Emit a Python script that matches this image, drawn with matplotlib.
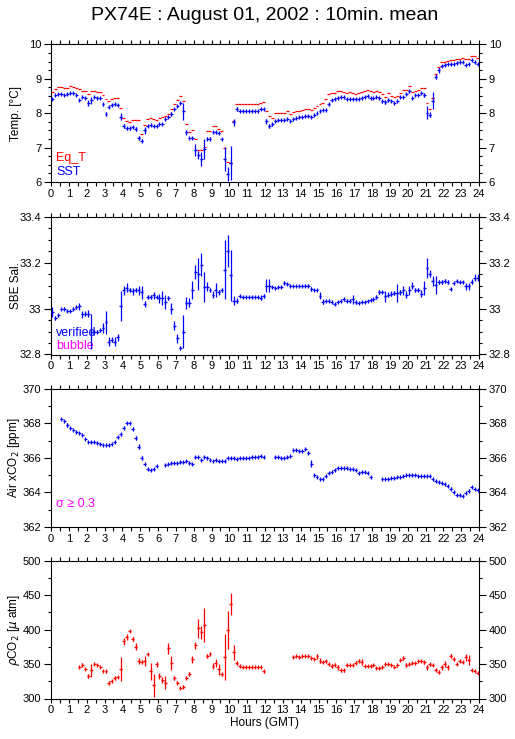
import numpy as np
import matplotlib
matplotlib.use("Agg")
import matplotlib.pyplot as plt
from matplotlib.ticker import MultipleLocator, FuncFormatter

plt.rcParams["font.family"] = ["Liberation Sans", "DejaVu Sans"]

nan = np.nan

TITLE = "PX74E : August 01, 2002 : 10min. mean"
BIN_HOURS = 1 / 6  # 10-minute means, 6 per hour

# one row per hour, 6 ten-minute values each
EQ_T = [
    [8.62, 8.70, 8.76, 8.76, 8.72, 8.74],
    [8.78, 8.77, 8.74, 8.70, 8.65, 8.65],
    [8.57, 8.64, 8.63, 8.62, 8.61, 8.52],
    [8.42, 8.35, 8.40, 8.44, 8.44, 8.15],
    [7.86, 7.78, 7.75, 7.80, 7.80, 7.80],
    [7.40, 7.66, 7.84, 7.86, 7.82, 7.81],
    [7.86, 7.88, 7.92, 7.99, 8.12, 8.28],
    [8.38, 8.49, 8.36, 7.70, 7.44, 7.50],
    [7.24, 6.94, 6.94, 7.02, 7.48, 7.47],
    [7.64, 7.62, 7.55, 7.48, 6.98, 6.57],
    [6.55, 7.76, 8.26, 8.28, 8.28, 8.28],
    [8.28, 8.28, 8.28, 8.28, 8.30, 8.32],
    [8.06, 7.92, 7.86, 8.00, 8.02, 8.01],
    [8.02, 8.05, 7.98, 8.04, 8.06, 8.06],
    [8.08, 8.12, 8.12, 8.10, 8.16, 8.20],
    [8.26, 8.30, 8.42, 8.56, 8.58, 8.58],
    [8.64, 8.64, 8.62, 8.60, 8.62, 8.58],
    [8.56, 8.60, 8.62, 8.65, 8.67, 8.64],
    [8.62, 8.64, 8.62, 8.55, 8.48, 8.58],
    [8.50, 8.48, 8.50, 8.60, 8.66, 8.68],
    [8.78, 8.62, 8.64, 8.66, 8.72, 8.72],
    [8.30, 8.12, 8.44, 9.14, 9.34, 9.48],
    [9.50, 9.52, 9.53, 9.55, 9.56, 9.58],
    [9.60, 9.56, 9.58, 9.65, 9.65, 9.60],
]

SST = [
    [8.42, 8.52, 8.55, 8.56, 8.54, 8.56],
    [8.58, 8.58, 8.53, 8.38, 8.46, 8.45],
    [8.30, 8.38, 8.46, 8.44, 8.43, 8.26],
    [7.98, 8.18, 8.24, 8.26, 8.25, 7.90],
    [7.64, 7.56, 7.56, 7.60, 7.55, 7.28],
    [7.20, 7.50, 7.62, 7.66, 7.62, 7.62],
    [7.68, 7.70, 7.82, 7.88, 7.98, 8.12],
    [8.22, 8.30, 8.06, 7.44, 7.28, 7.28],
    [6.94, 6.78, 6.66, 6.96, 7.26, 7.26],
    [7.46, 7.44, 7.42, 7.26, 6.68, 6.24],
    [6.55, 7.74, 8.12, 8.07, 8.07, 8.07],
    [8.07, 8.07, 8.07, 8.07, 8.12, 8.12],
    [7.76, 7.64, 7.68, 7.78, 7.80, 7.80],
    [7.80, 7.84, 7.78, 7.82, 7.86, 7.90],
    [7.90, 7.92, 7.92, 7.90, 7.96, 8.00],
    [8.06, 8.10, 8.10, 8.26, 8.38, 8.42],
    [8.44, 8.46, 8.46, 8.42, 8.42, 8.42],
    [8.42, 8.40, 8.44, 8.48, 8.50, 8.44],
    [8.44, 8.48, 8.44, 8.34, 8.32, 8.38],
    [8.34, 8.30, 8.34, 8.48, 8.48, 8.56],
    [8.64, 8.44, 8.52, 8.54, 8.58, 8.52],
    [8.02, 7.96, 8.36, 9.06, 9.24, 9.36],
    [9.40, 9.42, 9.42, 9.44, 9.46, 9.48],
    [9.48, 9.40, 9.44, 9.54, 9.48, 9.44],
]

SST_SD = [
    [.03, .02, .02, .02, .02, .02],
    [.02, .02, .03, .03, .02, .02],
    [.08, .10, .02, .02, .02, .05],
    [.05, .03, .02, .02, .03, .10],
    [.06, .04, .04, .04, .06, .05],
    [.05, .10, .03, .03, .02, .02],
    [.02, .02, .02, .03, .05, .03],
    [.03, .03, .25, .08, .03, .03],
    [.18, .12, .20, .30, .04, .04],
    [.03, .03, .03, .03, .35, .20],
    [.50, .10, .06, .02, .02, .02],
    [.02, .02, .02, .02, .03, .03],
    [.08, .06, .05, .02, .02, .02],
    [.02, .02, .02, .02, .02, .02],
    [.02, .02, .02, .02, .02, .02],
    [.02, .02, .02, .04, .02, .02],
    [.02, .02, .02, .02, .02, .02],
    [.02, .02, .02, .02, .02, .02],
    [.02, .02, .02, .04, .06, .02],
    [.02, .02, .02, .02, .02, .02],
    [.04, .02, .02, .02, .02, .06],
    [.20, .08, .25, .08, .06, .03],
    [.02, .02, .02, .02, .02, .02],
    [.02, .02, .02, .02, .02, .02],
]

SAL = [
    [32.985, 32.960, 32.970, 32.997, 33.000, 32.990],
    [32.990, 33.000, 33.005, 33.010, 32.975, 32.978],
    [32.978, 32.900, 32.900, 32.900, 32.905, 32.915],
    [32.940, 32.855, 32.865, 32.855, 32.875, 33.010],
    [33.080, 33.090, 33.080, 33.075, 33.080, 33.080],
    [33.070, 33.020, 33.050, 33.050, 33.057, 33.050],
    [33.045, 33.045, 33.030, 33.047, 33.000, 32.925],
    [32.870, 32.830, 32.900, 33.025, 33.025, 33.080],
    [33.158, 33.150, 33.190, 33.095, 33.095, 33.080],
    [33.060, 33.080, 33.070, 33.080, 33.170, 33.250],
    [33.145, 33.035, 33.035, 33.055, 33.050, 33.050],
    [33.050, 33.050, 33.050, 33.050, 33.048, 33.055],
    [33.100, 33.100, 33.095, 33.090, 33.095, 33.095],
    [33.110, 33.108, 33.100, 33.100, 33.100, 33.100],
    [33.100, 33.100, 33.100, 33.085, 33.080, 33.080],
    [33.055, 33.030, 33.033, 33.035, 33.030, 33.020],
    [33.030, 33.033, 33.040, 33.035, 33.035, 33.040],
    [33.027, 33.025, 33.028, 33.028, 33.033, 33.036],
    [33.040, 33.050, 33.073, 33.073, 33.053, 33.060],
    [33.065, 33.068, 33.068, 33.070, 33.080, 33.060],
    [33.080, 33.100, 33.080, 33.080, 33.065, 33.090],
    [33.177, 33.152, 33.120, 33.103, 33.117, 33.117],
    [33.120, 33.117, 33.085, 33.110, 33.120, 33.115],
    [33.115, 33.097, 33.097, 33.117, 33.135, 33.135],
]

SAL_SD = [
    [.020, .008, .008, .005, .005, .005],
    [.005, .005, .008, .015, .015, .010],
    [.015, .075, .005, .005, .008, .020],
    [.050, .020, .010, .020, .015, .065],
    [.020, .020, .010, .015, .010, .020],
    [.030, .015, .008, .008, .015, .005],
    [.020, .030, .030, .008, .025, .020],
    [.020, .005, .070, .025, .020, .040],
    [.030, .070, .050, .065, .020, .010],
    [.015, .030, .010, .010, .130, .070],
    [.110, .020, .010, .005, .003, .003],
    [.003, .003, .003, .003, .010, .010],
    [.030, .030, .005, .005, .005, .005],
    [.008, .005, .003, .003, .003, .003],
    [.003, .005, .005, .010, .005, .005],
    [.015, .010, .005, .005, .005, .005],
    [.005, .005, .005, .005, .005, .020],
    [.005, .005, .003, .003, .005, .005],
    [.008, .010, .008, .005, .025, .010],
    [.010, .010, .040, .010, .020, .015],
    [.020, .015, .010, .010, .015, .030],
    [.045, .015, .020, .040, .008, .008],
    [.010, .008, .005, .005, .005, .005],
    [.005, .015, .015, .010, .015, .015],
]

AIR_XCO2 = [
    [nan, nan, nan, 368.27, 368.17, 367.92],
    [367.72, 367.60, 367.50, 367.42, 367.35, 367.12],
    [366.95, 366.93, 366.90, 366.85, 366.80, 366.75],
    [366.73, 366.75, 366.83, 366.95, 367.20, 367.38],
    [367.75, 368.05, 368.05, 367.70, 367.15, 366.65],
    [366.00, 365.65, 365.38, 365.28, 365.35, 365.52],
    [nan, nan, 365.58, 365.65, 365.70, 365.72],
    [365.72, 365.75, 365.78, 365.82, 365.72, 365.65],
    [366.05, 366.05, 365.90, 366.05, 366.00, 365.85],
    [365.80, 365.85, 365.82, 365.80, 365.82, 365.97],
    [366.00, 366.00, 365.95, 365.98, 366.00, 366.00],
    [366.02, 366.05, 366.05, 366.05, 366.10, 366.05],
    [nan, nan, nan, 366.05, 366.05, 366.00],
    [366.00, 366.05, 366.10, 366.45, 366.45, 366.42],
    [366.42, 366.50, 366.30, 365.65, 364.98, 364.88],
    [364.78, 364.75, 364.95, 365.12, 365.20, 365.30],
    [365.42, 365.40, 365.40, 365.42, 365.35, 365.35],
    [365.30, 365.10, 365.18, 365.20, 365.15, 364.92],
    [nan, nan, nan, 364.80, 364.80, 364.80],
    [364.82, 364.85, 364.88, 364.92, 364.95, 364.98],
    [365.00, 365.00, 365.00, 364.97, 364.95, 364.93],
    [364.93, 364.93, 364.75, 364.68, 364.62, 364.55],
    [364.50, 364.35, 364.22, 364.00, 363.82, 363.82],
    [363.78, 363.95, 364.10, 364.30, 364.22, 364.12],
]

AIR_XCO2_SD = [
    [0, 0, 0, .05, .05, .10],
    [.05, .05, .05, .05, .05, .05],
    [.05, .05, .05, .05, .05, .05],
    [.05, .05, .05, .05, .05, .08],
    [.10, .05, .05, .10, .10, .15],
    [.12, .05, .05, .05, .05, .05],
    [0, 0, .05, .05, .05, .05],
    [.05, .05, .05, .05, .05, .08],
    [.05, .05, .05, .05, .05, .05],
    [.05, .05, .05, .05, .05, .05],
    [.05, .05, .05, .05, .05, .05],
    [.05, .05, .05, .05, .05, .05],
    [0, 0, 0, .05, .05, .05],
    [.05, .05, .05, .05, .05, .05],
    [.05, .05, .10, .20, .08, .05],
    [.05, .05, .05, .05, .05, .05],
    [.05, .05, .05, .05, .05, .05],
    [.05, .05, .05, .05, .05, .05],
    [0, 0, 0, .05, .05, .05],
    [.05, .05, .05, .05, .05, .05],
    [.05, .05, .05, .05, .05, .05],
    [.05, .05, .05, .05, .05, .05],
    [.05, .05, .10, .05, .05, .05],
    [.05, .05, .08, .05, .05, .05],
]

PCO2 = [
    [nan, nan, nan, nan, nan, nan],
    [nan, nan, nan, 345.5, 349.0, 342.6],
    [332.4, 340.7, 350.0, 349.0, 345.0, 339.7],
    [339.2, 322.3, 325.2, 330.0, 331.0, 342.6],
    [383.3, 389.6, 397.8, 386.2, 375.0, 354.7],
    [353.7, 354.2, 364.0, 339.2, 318.9, 349.4],
    [332.4, 326.6, 323.2, 372.6, 351.0, 330.0],
    [322.7, 315.0, 317.4, 330.0, 335.8, 356.7],
    [377.5, 401.7, 395.9, 406.5, 362.0, 365.0],
    [347.4, 351.0, 342.6, 334.9, 360.0, 399.3],
    [437.0, 366.8, 351.0, 346.5, 345.0, 345.0],
    [345.0, 345.0, 345.0, 345.5, 345.5, 339.2],
    [nan, nan, nan, nan, nan, nan],
    [nan, nan, nan, 360.0, 361.0, 360.5],
    [361.0, 362.0, 361.0, 358.5, 358.0, 361.0],
    [355.0, 353.0, 354.0, 350.0, 347.0, 349.0],
    [345.0, 341.0, 341.0, 348.0, 348.0, 348.0],
    [352.0, 355.0, 353.0, 347.5, 346.5, 346.5],
    [348.0, 344.0, 344.0, 346.0, 350.0, 350.0],
    [348.0, 346.0, 349.0, 356.0, 359.0, 348.5],
    [350.0, 351.0, 352.0, 354.0, 355.0, 352.5],
    [345.0, 349.5, 348.5, 342.0, 339.0, 345.0],
    [350.0, 345.0, 362.0, 357.0, 350.0, 354.0],
    [353.0, 360.0, 355.5, 341.0, 339.5, 337.0],
]

PCO2_SD = [
    [0, 0, 0, 0, 0, 0],
    [0, 0, 0, 1.5, 3, 1.5],
    [3, 9, 1, 1, 1, 1.5],
    [1.5, 3, 1, 3, 1.5, 17],
    [5, 4, 2, 3, 5, 4],
    [2, 7, 1, 12, 17, 4],
    [4, 4, 10, 8, 10, 3],
    [2, 1, 2, 2, 3, 5],
    [5, 14, 10, 25, 3, 2],
    [4, 6, 8, 2, 33, 27],
    [16, 11, 3, 1, 1, 1],
    [1, 1, 1, 1, 1, 2],
    [0, 0, 0, 0, 0, 0],
    [0, 0, 0, 1, 1, 1],
    [1, 1, 1, 1, 1, 3],
    [4, 2, 2, 2, 3, 2],
    [3, 2, 2, 1.5, 1.5, 1.5],
    [2, 2, 4, 1.5, 1.5, 1.5],
    [1.5, 1.5, 1.5, 1.5, 1.5, 1.5],
    [1.5, 1.5, 1.5, 2, 3, 3],
    [1.5, 1.5, 1.5, 1.5, 1.5, 2],
    [3, 2, 2, 2, 3, 3],
    [4, 3, 3, 2, 1.5, 1.5],
    [1.5, 5, 7, 1.5, 1.5, 1.5],
]

RED = "#ff0000"
BLUE = "#0000ff"
MAGENTA = "#ff00ff"
LW = 0.9


def flat(rows):
    return np.array([v for row in rows for v in row], dtype=float)


def draw_series(ax, rows, sd_rows=None, color=BLUE, cross=True):
    values = flat(rows)
    start = np.arange(len(values)) * BIN_HOURS
    mid = start + BIN_HOURS / 2
    ok = ~np.isnan(values)
    ax.hlines(values[ok], start[ok], start[ok] + BIN_HOURS, colors=color,
              lw=LW, zorder=3)
    if sd_rows is not None:
        sd = flat(sd_rows)
        ax.vlines(mid[ok], values[ok] - sd[ok], values[ok] + sd[ok],
                  colors=color, lw=LW, zorder=3)
    if cross:
        ax.plot(mid[ok], values[ok], ls="none", marker="|", ms=3, mew=LW,
                color=color, zorder=3)


def style_axis(ax, ylim, major, minor, ylabel):
    ax.set_xlim(0, 24)
    ax.set_ylim(*ylim)
    ax.xaxis.set_major_locator(MultipleLocator(1))
    ax.xaxis.set_minor_locator(MultipleLocator(0.5))
    ax.yaxis.set_major_locator(MultipleLocator(major))
    ax.yaxis.set_minor_locator(MultipleLocator(minor))
    ax.yaxis.set_major_formatter(FuncFormatter(lambda v, _: f"{v:g}"))
    ax.tick_params(which="both", direction="out", top=True, right=True,
                   labelright=True, labelsize=8, width=0.8)
    ax.tick_params(axis="x", which="both", length=3, pad=2)
    ax.tick_params(axis="y", which="major", length=5, pad=2)
    ax.tick_params(axis="y", which="minor", length=2.5)
    for spine in ax.spines.values():
        spine.set_linewidth(0.8)
    ax.set_ylabel(ylabel, fontsize=8.5)
    ax.yaxis.set_label_coords(-0.068, 0.5)


def main():
    fig = plt.figure(figsize=(5.15, 7.39), dpi=100)
    left, width = 51 / 515, 428 / 515
    tops = [44.3, 216.7, 389.0, 560.7]
    height_px = 137.8
    axes = [fig.add_axes([left, 1 - (t + height_px) / 739, width, height_px / 739]) for t in tops]
    ax1, ax2, ax3, ax4 = axes

    fig.text(0.513, 1 - 15 / 739, TITLE, ha="center", va="center", fontsize=14)

    # temperature
    style_axis(ax1, (6, 10), 1, 0.25, "Temp. [°C]")
    draw_series(ax1, EQ_T, color=RED, cross=False)
    draw_series(ax1, SST, SST_SD, color=BLUE)
    ax1.text(0.012, 0.175, "Eq_T", color=RED, fontsize=9, transform=ax1.transAxes, va="center", zorder=1)
    ax1.text(0.012, 0.075, "SST", color=BLUE, fontsize=9, transform=ax1.transAxes, va="center", zorder=1)

    # salinity
    style_axis(ax2, (32.8, 33.4), 0.2, 0.05, "SBE Sal.")
    draw_series(ax2, SAL, SAL_SD, color=BLUE)
    ax2.text(0.012, 0.158, "verified", color=BLUE, fontsize=9, transform=ax2.transAxes, va="center", zorder=1)
    ax2.text(0.012, 0.063, "bubble", color=MAGENTA, fontsize=9, transform=ax2.transAxes, va="center", zorder=1)

    # air xCO2
    style_axis(ax3, (362, 370), 2, 1, "Air xCO$_2$ [ppm]")
    draw_series(ax3, AIR_XCO2, AIR_XCO2_SD, color=BLUE)
    ax3.text(0.012, 0.165, "σ ≥ 0.3", color=MAGENTA, fontsize=9, transform=ax3.transAxes, va="center", zorder=1)

    # pCO2
    style_axis(ax4, (300, 500), 50, 25, r"$\rho$CO$_2$ [$\mu$ atm]")
    draw_series(ax4, PCO2, PCO2_SD, color=RED)
    ax4.set_xlabel("Hours (GMT)", fontsize=8.5, labelpad=1)

    fig.savefig("out.png", dpi=100)


if __name__ == "__main__":
    main()
